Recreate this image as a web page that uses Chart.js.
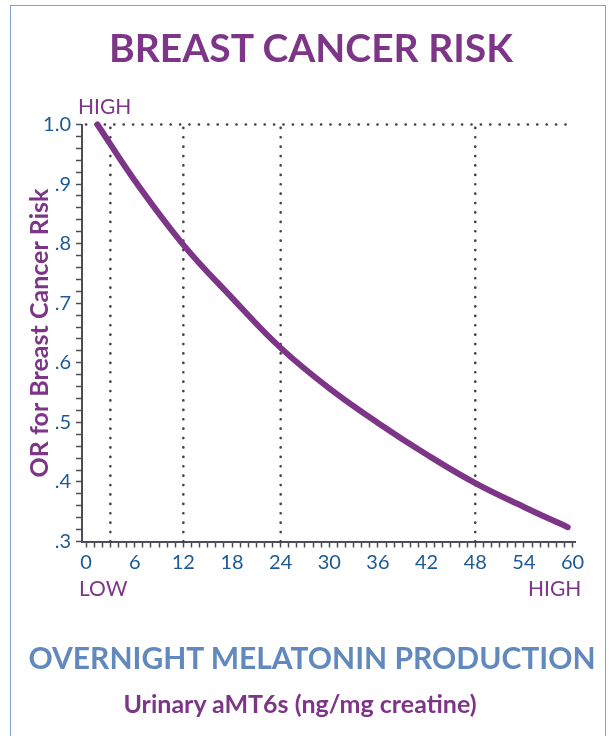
<!DOCTYPE html>
<html>
<head>
<meta charset="utf-8">
<script src="https://cdn.jsdelivr.net/npm/chart.js@4.4.1/dist/chart.umd.min.js"></script>
<style>
  body { margin: 0; background: #fff; }
  #wrap { position: relative; width: 610px; height: 736px; overflow: hidden; font-family: Lato, "Open Sans", sans-serif; }
  #frame { position: absolute; left: 10px; top: 5px; width: 596px; height: 760px; border: 1px solid #7fa2cf; box-sizing: border-box; }
  canvas { position: absolute; left: 0; top: 0; }
  .txt { position: absolute; white-space: nowrap; }
  #title { left: 0; width: 622px; text-align: center; top: 24px; line-height: 46px; font-size: 39px; font-weight: 700; color: #7d3587; }
  #xtitle { left: 0; width: 624px; text-align: center; top: 640px; line-height: 34px; font-size: 30px; font-weight: 700; color: #6189bd; }
  #xsub { left: 0; width: 600px; text-align: center; top: 688px; line-height: 30px; font-size: 25px; font-weight: 700; color: #7d3587; }
  .end { font-size: 21px; line-height: 24px; color: #7d3587; }
</style>
</head>
<body>
<div id="wrap">
  <div id="frame"></div>
  <canvas id="orChart" width="610" height="736"></canvas>
  <div class="txt" id="title">BREAST CANCER RISK</div>
  <div class="txt end" style="left:78px; top:94px;">HIGH</div>
  <div class="txt end" style="left:79px; top:576px;">LOW</div>
  <div class="txt end" style="left:528px; top:576px;">HIGH</div>
  <div class="txt" id="xtitle">OVERNIGHT MELATONIN PRODUCTION</div>
  <div class="txt" id="xsub">Urinary aMT6s (ng/mg creatine)</div>
</div>
<script>
// OR for breast cancer risk vs urinary aMT6s

// curve
const melatonin = [1.4, 6, 12, 18, 24, 30, 36, 42, 48, 54, 59.4];
const oddsRatio = [1.0, 0.906, 0.798, 0.709, 0.625, 0.557, 0.499, 0.446, 0.398, 0.358, 0.324];

// dotted reference lines
const refX = [3, 12, 24, 48];
const refY = 1.0;

// axis ranges / label steps
const xRange = [-0.5, 60.3];
const yRange = [0.3, 1.0];
const xLabelStep = 6;

const purple = '#7d3587';
const tickBlue = '#1b5a94';
const axisGrey = '#4d4d58';
const dotGrey = '#3e3e4c';

const curveData = melatonin.map((x, i) => ({ x: x, y: oddsRatio[i] }));

function dottedLine(points) {
    return {
        data: points,
        borderColor: dotGrey,
        borderWidth: 2.6,
        borderDash: [0.1, 9.3],
        borderCapStyle: 'round',
        pointRadius: 0,
        fill: false,
        clip: false
    };
}

const datasets = [
    {
        data: curveData,
        borderColor: purple,
        borderWidth: 6,
        borderCapStyle: 'round',
        tension: 0.4,
        pointRadius: 0,
        fill: false,
        clip: false
    },
    dottedLine([{ x: 0, y: refY }, { x: 60, y: refY }])
];
refX.forEach(x => {
    datasets.push(dottedLine([{ x: x, y: yRange[0] }, { x: x, y: refY }]));
});

const ctx = document.getElementById('orChart').getContext('2d');
new Chart(ctx, {
    type: 'line',
    data: { datasets: datasets },
    options: {
        responsive: false,
        animation: false,
        events: [],
        layout: { padding: { left: 0, top: 124.5, right: 35, bottom: 154.5 } },
        plugins: { legend: { display: false }, tooltip: { enabled: false } },
        scales: {
            x: {
                type: 'linear',
                min: xRange[0],
                max: xRange[1],
                afterFit: s => { s.height = 40; },
                border: { display: true, color: axisGrey, width: 2 },
                grid: { drawOnChartArea: false, drawTicks: true, tickLength: 6, tickColor: axisGrey, tickWidth: 1.5 },
                ticks: {
                    stepSize: 1,
                    includeBounds: false,
                    autoSkip: false,
                    maxRotation: 0,
                    maxTicksLimit: 100,
                    padding: 3,
                    color: tickBlue,
                    font: { family: 'Lato', size: 20 },
                    callback: v => (Math.round(v) % xLabelStep === 0 ? String(Math.round(v)) : '')
                }
            },
            y: {
                type: 'linear',
                min: yRange[0],
                max: yRange[1],
                afterFit: s => { s.width = 82; },
                border: { display: true, color: axisGrey, width: 2 },
                grid: { drawOnChartArea: false, drawTicks: true, tickLength: 6, tickColor: axisGrey, tickWidth: 1.5 },
                title: {
                    display: true,
                    text: 'OR for Breast Cancer Risk',
                    color: purple,
                    font: { family: 'Lato', size: 25, weight: 'bold' },
                    padding: { top: 25, bottom: 0 }
                },
                ticks: {
                    stepSize: 0.02,
                    autoSkip: false,
                    maxTicksLimit: 100,
                    padding: 5,
                    color: tickBlue,
                    font: { family: 'Lato', size: 20 },
                    callback: v => {
                        const h = Math.round(v * 100);
                        if (h % 10 !== 0) return '';
                        return h === 100 ? '1.0' : '.' + (h / 10);
                    }
                }
            }
        }
    }
});
</script>
</body>
</html>
